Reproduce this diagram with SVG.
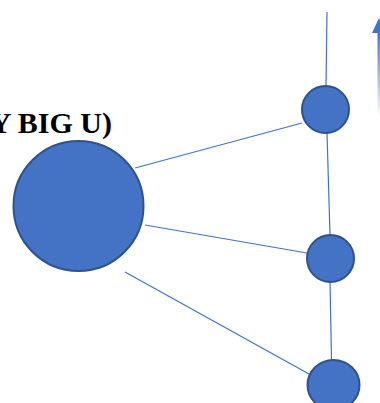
<svg xmlns="http://www.w3.org/2000/svg" width="380" height="403" viewBox="0 0 380 403">
<style>
.node{fill:#4472C4;stroke:#2F528F;stroke-width:2}
.edge{stroke:#4472C4;stroke-width:1.2;fill:none}
.lbl{font-family:"Liberation Serif",serif;font-weight:bold;font-size:30px;fill:#000}
</style>
<defs>
<linearGradient id="fade" x1="0" y1="0" x2="0" y2="1">
<stop offset="0" stop-color="#4472C4"/>
<stop offset="1" stop-color="#4472C4" stop-opacity="0"/>
</linearGradient>
</defs>
<rect width="380" height="403" fill="#fff"/>
<g id="connectors">
<line class="edge" x1="327" y1="12" x2="326" y2="86"/>
<line class="edge" x1="327" y1="133" x2="330" y2="235"/>
<line class="edge" x1="330" y1="282" x2="331.5" y2="360"/>
<line class="edge" x1="135" y1="168" x2="302" y2="123"/>
<line class="edge" x1="145" y1="225" x2="307" y2="253"/>
<line class="edge" x1="125" y1="272" x2="309" y2="374"/>
</g>
<g id="arrow">
<rect x="377.5" y="32" width="2.5" height="85" fill="url(#fade)"/>
<polygon points="372,33 379,18 386,33" fill="#4472C4"/>
</g>
<g id="label">
<text class="lbl" x="112" y="133" text-anchor="end">Y BIG U)</text>
</g>
<g id="big"><circle class="node" cx="78.5" cy="206" r="65"/></g>
<g id="n1"><circle class="node" cx="325.5" cy="109.5" r="23.5"/></g>
<g id="n2"><circle class="node" cx="330.5" cy="258.5" r="23.5"/></g>
<g id="n3"><ellipse class="node" cx="333.5" cy="385" rx="26" ry="25"/></g>
</svg>
